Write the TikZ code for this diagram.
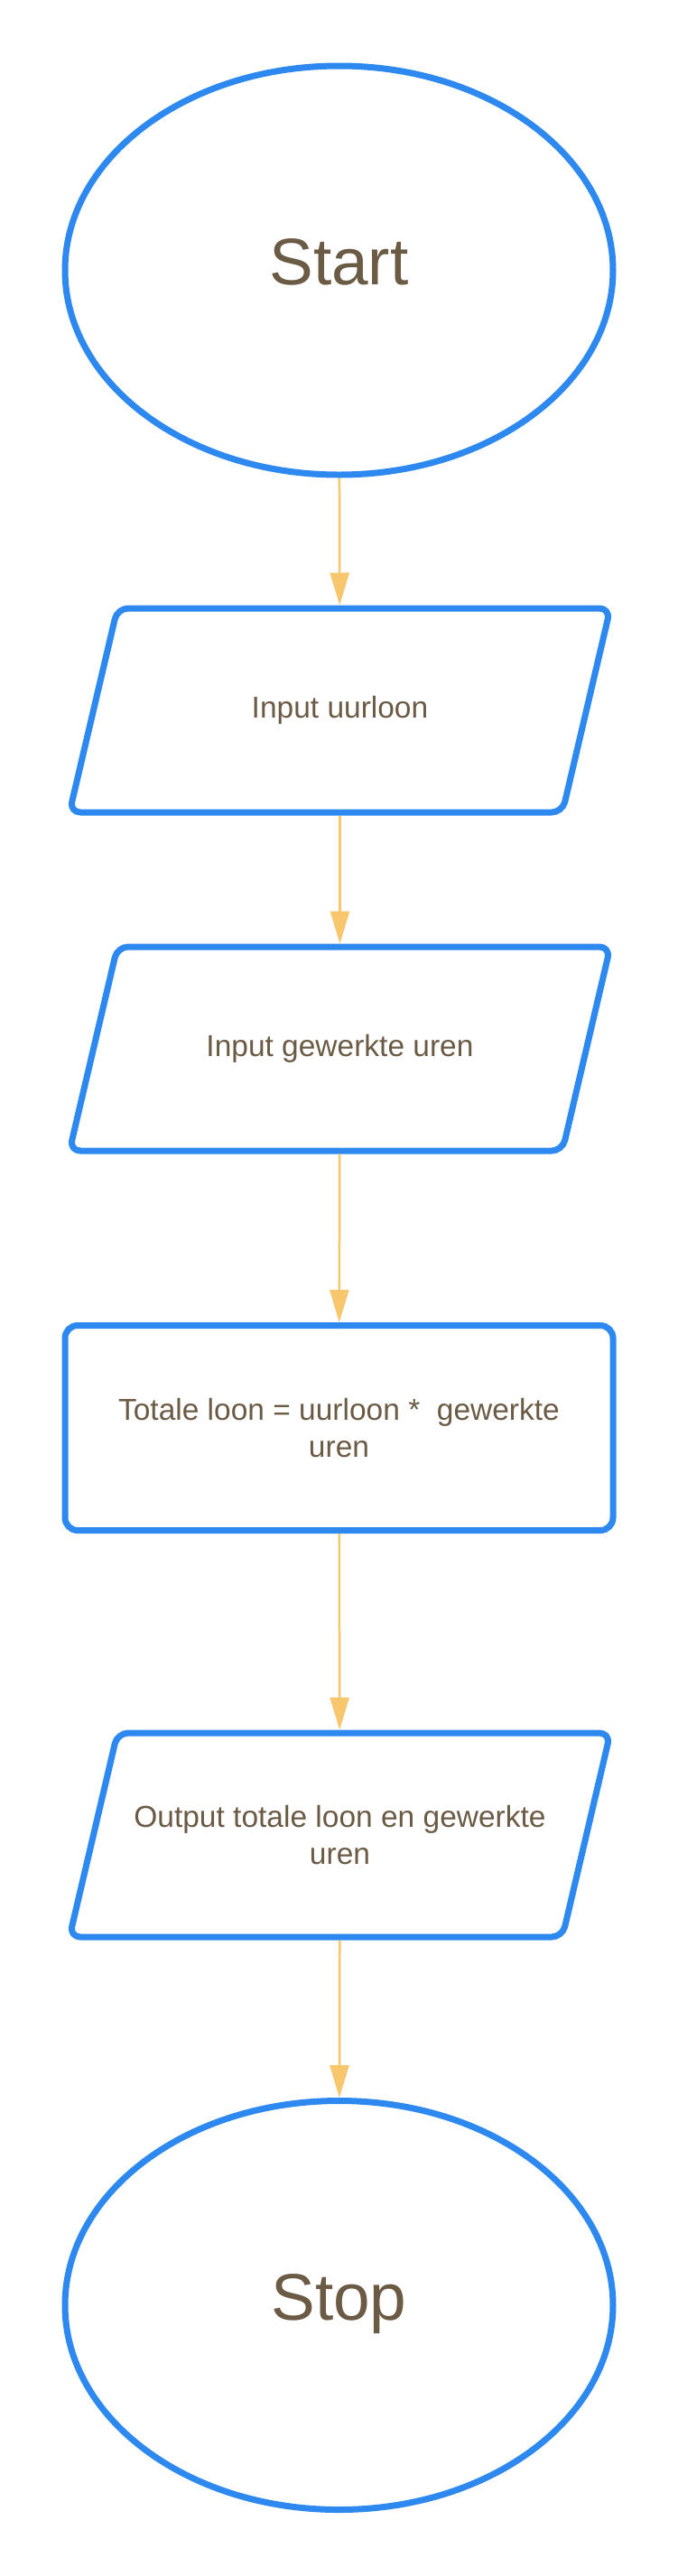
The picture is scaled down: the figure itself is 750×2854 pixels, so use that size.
\documentclass[tikz,border=0pt]{standalone}
\usepackage{fontspec}
\setmainfont{Liberation Sans}
\usetikzlibrary{arrows.meta, shapes.geometric}
\definecolor{rand}{HTML}{2D89EF}
\definecolor{pijl}{HTML}{F8C66C}
\definecolor{tekst}{HTML}{6B5B45}
\tikzset{
    startstop/.style={
        ellipse, draw=rand, line width=7pt,
        minimum width=607pt, minimum height=453pt,
        text=tekst, text height=52pt, text depth=20pt,
        font=\fontsize{73}{80}\selectfont
    },
    inout/.style={
        rectangle, outer sep=0pt,
        minimum width=599pt, minimum height=233pt,
        text=tekst, align=center, font=\fontsize{33.5}{41}\selectfont
    },
    inoutrand/.style={
        draw=rand, line width=7pt, rounded corners=12pt, line join=round
    },
    process/.style={
        rectangle, rounded corners=14pt, draw=rand, line width=7pt,
        minimum width=607pt, minimum height=227pt,
        text=tekst, align=center, font=\fontsize{33.5}{41}\selectfont
    },
    flowarrow/.style={
        draw=pijl, line width=2.5pt,
        -{Triangle[width=21pt, length=36pt]}
    }
}

\begin{document}
\begin{tikzpicture}[x=1pt, y=1pt]

    \useasboundingbox[fill=white] (0,0) rectangle (750,-2854);

    % Begin
    \node[startstop] (start) at (375.5,-299.5) {Start};

    % Invoer
    \node[inout] (uurloon) at (376.5,-787) {Input uurloon};
    \node[inout] (uren) at (376.5,-1162) {Input gewerkte uren};

    % Berekening
    \node[process] (totaal) at (375.5,-1582)
        {Totale loon = uurloon *~ gewerkte\\uren};

    % Uitvoer
    \node[inout] (output) at (376.5,-2033)
        {Output totale loon en gewerkte\\uren};

    % Einde
    \node[startstop] (stop) at (375.5,-2554) {Stop};

    % Parallellogrammen
    \foreach \n in {uurloon, uren, output}
        \draw[inoutrand]
        ([shift={(-299.5,-113)}]\n.center)
        -- ([shift={(-246.5,113)}]\n.center)
        -- ([shift={(299.5,113)}]\n.center)
        -- ([shift={(246.5,-113)}]\n.center)
        -- cycle;

    % Pijlen
    \draw[flowarrow] (start) -- (uurloon);
    \draw[flowarrow] (uurloon) -- (uren);
    \draw[flowarrow] (uren) -- (totaal);
    \draw[flowarrow] (totaal) -- (output);
    \draw[flowarrow] (output) -- (stop);

\end{tikzpicture}
\end{document}
